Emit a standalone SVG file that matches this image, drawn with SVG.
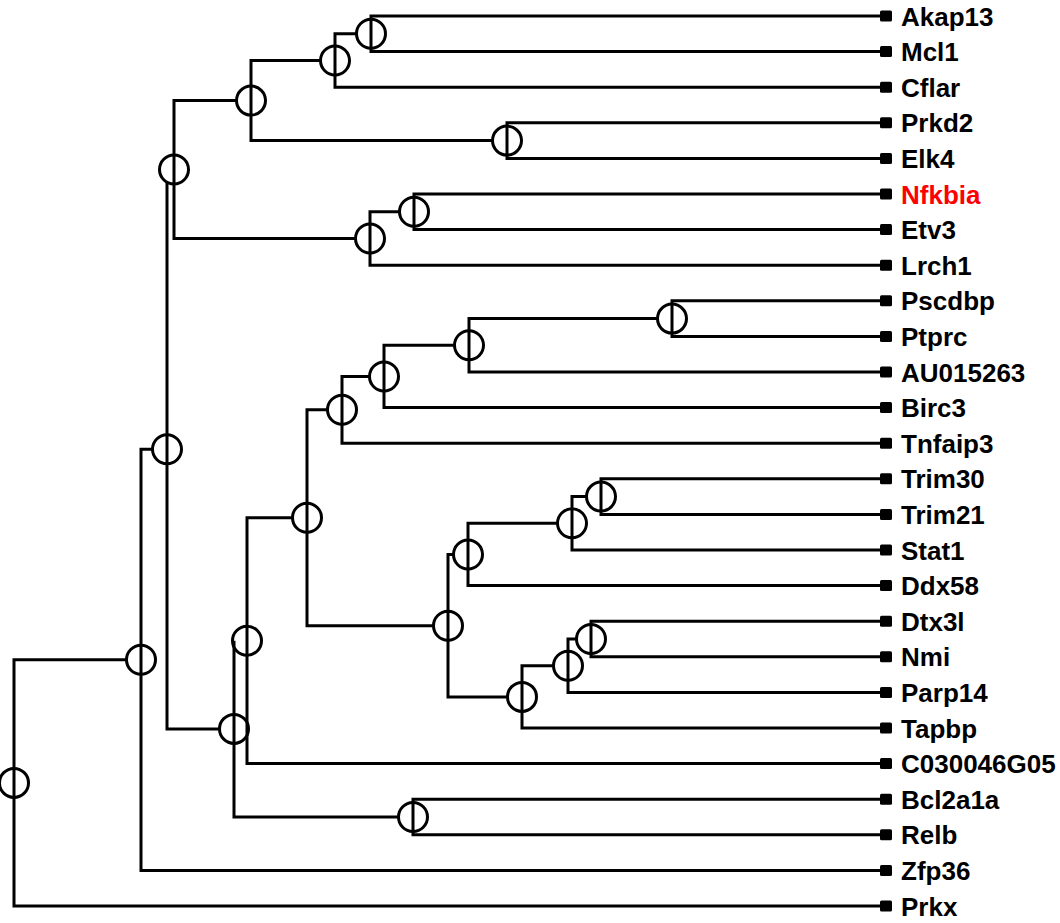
<svg xmlns="http://www.w3.org/2000/svg" width="1060" height="923" viewBox="0 0 1060 923">
<style>
.e{fill:none;stroke:#000;stroke-width:3;stroke-linejoin:miter}
.n{fill:none;stroke:#000;stroke-width:3}
.m{fill:#000}
.t{font-family:"Liberation Sans",Arial,sans-serif;font-weight:bold;font-size:26px;fill:#000}
.r{fill:#ff0000}
</style>
<rect width="1060" height="923" fill="#fff"/>
<g id="connectors">
<path class="e" d="M882,16 H371 V51.6 H882"/>
<path class="e" d="M357,33.8 H335 V87.2 H882"/>
<path class="e" d="M882,122.8 H507 V158.4 H882"/>
<path class="e" d="M321,60.5 H251 V140.6 H493"/>
<path class="e" d="M882,194 H414 V229.6 H882"/>
<path class="e" d="M400,211.8 H370 V265.2 H882"/>
<path class="e" d="M237,100.6 H174 V238.5 H356"/>
<path class="e" d="M882,300.8 H672 V336.4 H882"/>
<path class="e" d="M658,318.6 H469 V372 H882"/>
<path class="e" d="M455,345.3 H384 V407.6 H882"/>
<path class="e" d="M370,376.5 H342 V443.2 H882"/>
<path class="e" d="M882,478.8 H601 V514.4 H882"/>
<path class="e" d="M587,496.6 H572 V550 H882"/>
<path class="e" d="M558,523.3 H468 V585.6 H882"/>
<path class="e" d="M882,621.2 H591 V656.8 H882"/>
<path class="e" d="M577,639 H568 V692.4 H882"/>
<path class="e" d="M554,665.7 H522 V728 H882"/>
<path class="e" d="M454,554.5 H448 V696.9 H508"/>
<path class="e" d="M328,409.8 H307 V625.7 H434"/>
<path class="e" d="M293,517.8 H247 V763.6 H882"/>
<path class="e" d="M882,799.2 H413 V834.8 H882"/>
<path class="e" d="M234,640.7 V817 H399"/>
<path class="e" d="M167,183 V728.9 H220"/>
<path class="e" d="M153,449.2 H141 V870.4 H882"/>
<path class="e" d="M127,659.8 H14 V906 H882"/>
</g>
<g id="n-I"><circle class="n" cx="371" cy="33.8" r="14.5"/></g>
<g id="n-G"><circle class="n" cx="335" cy="60.5" r="14.5"/></g>
<g id="n-H"><circle class="n" cx="507" cy="140.6" r="14.5"/></g>
<g id="n-E"><circle class="n" cx="251" cy="100.6" r="14.5"/></g>
<g id="n-J"><circle class="n" cx="414" cy="211.8" r="14.5"/></g>
<g id="n-F"><circle class="n" cx="370" cy="238.5" r="14.5"/></g>
<g id="n-C"><circle class="n" cx="174" cy="169.5" r="14.5"/></g>
<g id="n-R"><circle class="n" cx="672" cy="318.6" r="14.5"/></g>
<g id="n-Q"><circle class="n" cx="469" cy="345.3" r="14.5"/></g>
<g id="n-P"><circle class="n" cx="384" cy="376.5" r="14.5"/></g>
<g id="n-N"><circle class="n" cx="342" cy="409.8" r="14.5"/></g>
<g id="n-V"><circle class="n" cx="601" cy="496.6" r="14.5"/></g>
<g id="n-U"><circle class="n" cx="572" cy="523.3" r="14.5"/></g>
<g id="n-S"><circle class="n" cx="468" cy="554.5" r="14.5"/></g>
<g id="n-X"><circle class="n" cx="591" cy="639" r="14.5"/></g>
<g id="n-W"><circle class="n" cx="568" cy="665.7" r="14.5"/></g>
<g id="n-T"><circle class="n" cx="522" cy="696.9" r="14.5"/></g>
<g id="n-O"><circle class="n" cx="448" cy="625.7" r="14.5"/></g>
<g id="n-M"><circle class="n" cx="307" cy="517.8" r="14.5"/></g>
<g id="n-K"><circle class="n" cx="247" cy="640.7" r="14.5"/></g>
<g id="n-L"><circle class="n" cx="413" cy="817" r="14.5"/></g>
<g id="n-D"><circle class="n" cx="234" cy="728.9" r="14.5"/></g>
<g id="n-B"><circle class="n" cx="167" cy="449.2" r="14.5"/></g>
<g id="n-A"><circle class="n" cx="141" cy="659.8" r="14.5"/></g>
<g id="n-root"><circle class="n" cx="14" cy="782.9" r="14.5"/></g>
<g id="leaf-Akap13"><rect class="m" x="880" y="10.5" width="12" height="11" rx="1.5"/><text class="t" x="901" y="25.5">Akap13</text></g>
<g id="leaf-Mcl1"><rect class="m" x="880" y="46.1" width="12" height="11" rx="1.5"/><text class="t" x="901" y="61.1">Mcl1</text></g>
<g id="leaf-Cflar"><rect class="m" x="880" y="81.7" width="12" height="11" rx="1.5"/><text class="t" x="901" y="96.7">Cflar</text></g>
<g id="leaf-Prkd2"><rect class="m" x="880" y="117.3" width="12" height="11" rx="1.5"/><text class="t" x="901" y="132.3">Prkd2</text></g>
<g id="leaf-Elk4"><rect class="m" x="880" y="152.9" width="12" height="11" rx="1.5"/><text class="t" x="901" y="167.9">Elk4</text></g>
<g id="leaf-Nfkbia"><rect class="m" x="880" y="188.5" width="12" height="11" rx="1.5"/><text class="t r" x="901" y="203.5">Nfkbia</text></g>
<g id="leaf-Etv3"><rect class="m" x="880" y="224.1" width="12" height="11" rx="1.5"/><text class="t" x="901" y="239.1">Etv3</text></g>
<g id="leaf-Lrch1"><rect class="m" x="880" y="259.7" width="12" height="11" rx="1.5"/><text class="t" x="901" y="274.7">Lrch1</text></g>
<g id="leaf-Pscdbp"><rect class="m" x="880" y="295.3" width="12" height="11" rx="1.5"/><text class="t" x="901" y="310.3">Pscdbp</text></g>
<g id="leaf-Ptprc"><rect class="m" x="880" y="330.9" width="12" height="11" rx="1.5"/><text class="t" x="901" y="345.9">Ptprc</text></g>
<g id="leaf-AU015263"><rect class="m" x="880" y="366.5" width="12" height="11" rx="1.5"/><text class="t" x="901" y="381.5">AU015263</text></g>
<g id="leaf-Birc3"><rect class="m" x="880" y="402.1" width="12" height="11" rx="1.5"/><text class="t" x="901" y="417.1">Birc3</text></g>
<g id="leaf-Tnfaip3"><rect class="m" x="880" y="437.7" width="12" height="11" rx="1.5"/><text class="t" x="901" y="452.7">Tnfaip3</text></g>
<g id="leaf-Trim30"><rect class="m" x="880" y="473.3" width="12" height="11" rx="1.5"/><text class="t" x="901" y="488.3">Trim30</text></g>
<g id="leaf-Trim21"><rect class="m" x="880" y="508.9" width="12" height="11" rx="1.5"/><text class="t" x="901" y="523.9">Trim21</text></g>
<g id="leaf-Stat1"><rect class="m" x="880" y="544.5" width="12" height="11" rx="1.5"/><text class="t" x="901" y="559.5">Stat1</text></g>
<g id="leaf-Ddx58"><rect class="m" x="880" y="580.1" width="12" height="11" rx="1.5"/><text class="t" x="901" y="595.1">Ddx58</text></g>
<g id="leaf-Dtx3l"><rect class="m" x="880" y="615.7" width="12" height="11" rx="1.5"/><text class="t" x="901" y="630.7">Dtx3l</text></g>
<g id="leaf-Nmi"><rect class="m" x="880" y="651.3" width="12" height="11" rx="1.5"/><text class="t" x="901" y="666.3">Nmi</text></g>
<g id="leaf-Parp14"><rect class="m" x="880" y="686.9" width="12" height="11" rx="1.5"/><text class="t" x="901" y="701.9">Parp14</text></g>
<g id="leaf-Tapbp"><rect class="m" x="880" y="722.5" width="12" height="11" rx="1.5"/><text class="t" x="901" y="737.5">Tapbp</text></g>
<g id="leaf-C030046G05"><rect class="m" x="880" y="758.1" width="12" height="11" rx="1.5"/><text class="t" x="901" y="773.1">C030046G05</text></g>
<g id="leaf-Bcl2a1a"><rect class="m" x="880" y="793.7" width="12" height="11" rx="1.5"/><text class="t" x="901" y="808.7">Bcl2a1a</text></g>
<g id="leaf-Relb"><rect class="m" x="880" y="829.3" width="12" height="11" rx="1.5"/><text class="t" x="901" y="844.3">Relb</text></g>
<g id="leaf-Zfp36"><rect class="m" x="880" y="864.9" width="12" height="11" rx="1.5"/><text class="t" x="901" y="879.9">Zfp36</text></g>
<g id="leaf-Prkx"><rect class="m" x="880" y="900.5" width="12" height="11" rx="1.5"/><text class="t" x="901" y="915.5">Prkx</text></g>
</svg>
